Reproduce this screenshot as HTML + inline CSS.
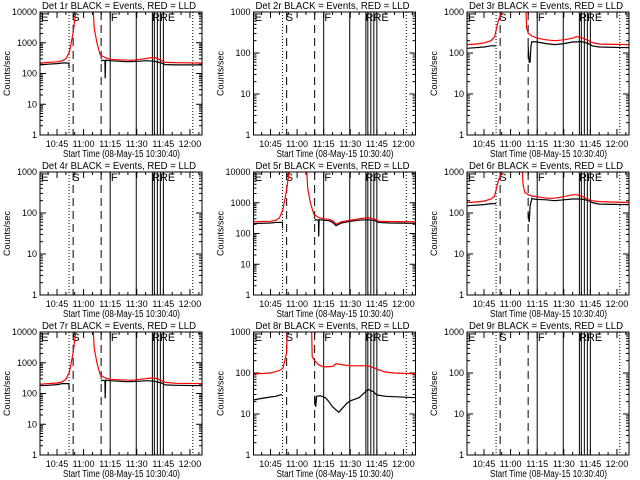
<!DOCTYPE html>
<html><head><meta charset="utf-8"><style>
html,body{margin:0;padding:0;background:#fff;}
svg{display:block;font-family:"Liberation Sans",sans-serif;}
</style></head><body>
<svg id="c" width="640" height="480" viewBox="0 0 640 480"></svg>
<script>
// shared time axis (minutes after 10:00)
const xTickLabels = ["10:45","11:00","11:15","11:30","11:45","12:00"];
const xTickTimes = [45,60,75,90,105,120];
const eventLabels = ["E","S","F","RRE"];
const eventLabelTimes = [36.0,53.6,75.4,98.6];
const dottedTimes = [51.8,121.6];
const dashedTimes = [54.1,69.9];
const solidTimes = [75.0,89.7,98.8,99.9,101.6,103.3,105.0];
// panel y-axis max decades
const panelDecades = [4,3,3,3,4,3,4,3,3];
// Det 1
const redT1 = [35.4,40,45,48,50,52,54,56.3,65.2,66,67.5,69.4,72.2,75,85,88,94,98,101,104,106,112,126.8];
const redV1 = [220,230,240,260,300,500,2000,20000,20000,3000,1000,400,330,290,270,270,300,330,320,260,230,225,220];
const blkT1 = [35.4,40,45,48,51.7,51.8,52,69.9,70.5,72,72.2,72.4,75,85,90,96,100,104,106,112,126.8];
const blkV1 = [190,200,210,220,220,150,null,250,270,260,70,270,260,240,250,260,250,220,195,190,190];
// Det 3
const redT3 = [35.4,40,45,49,51,53,55,56,68.2,69,70,72,75,80,85,90,95,97,100,104,106,110,126.8];
const redV3 = [160,165,175,200,250,600,1000,5000,5000,400,300,260,230,210,200,210,230,250,240,200,180,165,160];
const blkT3 = [35.4,40,45,49,51.8,52,69.9,70.5,71,71.5,72,75,80,85,90,95,100,104,106,110,126.8];
const blkV3 = [130,135,140,150,150,null,150,60,60,150,190,185,170,160,170,185,190,170,150,140,135];
// Det 5
const redT5 = [35.4,40,45,48,50,52,54,56.3,65.2,66,67.5,69.4,72.2,75,78,80,82,85,90,95,100,104,106,112,126.8];
const redV5 = [240,245,250,270,320,600,2500,20000,20000,3000,1000,420,330,300,290,260,200,240,270,300,330,290,250,245,240];
const blkT5 = [35.4,40,45,48,51.7,51.8,52,69.9,70.5,72,72.2,72.4,75,78,80,82,85,90,95,100,104,106,112,126.8];
const blkV5 = [210,215,220,230,230,150,null,260,280,270,80,280,270,260,230,180,220,250,270,280,260,230,220,215];
// Det 6
const redT6 = [35.4,40,45,49,51,53,55,56,66.0,67,68,70,72,75,80,85,90,95,97,100,104,106,110,126.8];
const redV6 = [180,185,195,220,260,600,1000,5000,5000,500,320,280,260,250,230,230,250,280,280,260,210,200,190,180];
const blkT6 = [35.4,40,45,49,51.8,52,69.9,70.5,71,72,73,75,80,85,90,95,100,104,106,110,126.8];
const blkV6 = [150,155,160,170,170,null,100,60,150,230,220,215,210,200,210,220,220,200,180,165,160];
// Det 7
const redT7 = [35.4,40,45,48,50,52,54,56.3,65.2,66,67.5,69.4,72.2,75,85,88,94,98,101,104,106,112,126.8];
const redV7 = [200,210,220,240,290,500,2000,20000,20000,3000,1000,400,320,290,270,270,300,320,310,260,230,215,210];
const blkT7 = [35.4,40,45,48,51.7,51.8,52,69.9,70.5,72,72.2,72.4,75,85,90,96,100,104,106,112,126.8];
const blkV7 = [180,185,195,210,210,140,null,250,270,260,70,270,260,240,250,260,250,220,190,185,180];
// Det 8
const redT8 = [35.4,40,45,48,50,52,54,55,67.9,68.5,70,72,75,80,82,85,90,95,100,104,106,110,115,126.8];
const redV8 = [95,97,100,108,115,130,300,5000,5000,250,200,160,140,145,170,160,150,150,150,130,120,105,100,95];
const blkT8 = [35.4,40,45,48,51.5,51.8,69.9,70.5,71,73,76,78,80,83.5,85,88,90,95,98,100,103,105,110,126.8];
const blkV8 = [22,24,26,27,30,null,28,15,27,28,25,20,15,11,13,18,21,25,33,40,35,29,27,25];
const panelData = [
  [redT1,redV1,blkT1,blkV1],null,[redT3,redV3,blkT3,blkV3],
  null,[redT5,redV5,blkT5,blkV5],[redT6,redV6,blkT6,blkV6],
  [redT7,redV7,blkT7,blkV7],[redT8,redV8,blkT8,blkV8],null];

const svg = document.getElementById('c');
const NS = 'http://www.w3.org/2000/svg';
function mk(tag, attrs, parent){const e=document.createElementNS(NS,tag);for(const k in attrs)e.setAttribute(k,attrs[k]);parent.appendChild(e);return e;}
const T0=35.4, T1=126.8, W=162, H=123;

for(let p=0;p<9;p++){
  const col=p%3,row=Math.floor(p/3);
  const L=40+col*213.5, Tp=12+row*160;
  const dec=panelDecades[p];
  const xs=t=>L+(t-T0)/(T1-T0)*W;
  const ys=v=>Tp+H-Math.log10(v)/dec*H;
  const g=mk('g',{},svg);
  
  
  const title=mk('text',{x:L+2,y:Tp-3,'font-size':10,textLength:154,lengthAdjust:'spacingAndGlyphs'},g);
  title.textContent='Det '+(p+1)+'r BLACK = Events, RED = LLD';
  
  
  const yl=mk('text',{x:0,y:0,'font-size':9,'text-anchor':'middle',transform:`translate(${L-30},${Tp+H/2}) rotate(-90)`},g);
  yl.textContent='Counts/sec';
  
  
  const xl=mk('text',{x:L+23,y:Tp+H+22,'font-size':10,textLength:117,lengthAdjust:'spacingAndGlyphs'},g);
  xl.textContent='Start Time (08-May-15 10:30:40)';
  
  
  // y ticks
  for(let d=0;d<=dec;d++){
    const y=ys(Math.pow(10,d));
    mk('line',{x1:L,x2:L+6,y1:y,y2:y,stroke:'#000'},g);
    mk('line',{x1:L+W-6,x2:L+W,y1:y,y2:y,stroke:'#000'},g);
    const tl=mk('text',{x:L-3,y:y+3,'font-size':9,'text-anchor':'end'},g);
    tl.textContent=String(Math.pow(10,d));
    
    
    if(d<dec)for(let m=2;m<10;m++){const ym=ys(m*Math.pow(10,d));
      mk('line',{x1:L,x2:L+3,y1:ym,y2:ym,stroke:'#000'},g);
      mk('line',{x1:L+W-3,x2:L+W,y1:ym,y2:ym,stroke:'#000'},g);}
  }
  // x ticks
  for(let t=40;t<=125;t+=5){const x=xs(t);const major=(t%15===0);const len=major?6:3;
    mk('line',{x1:x,x2:x,y1:Tp+H,y2:Tp+H-len,stroke:'#000'},g);
    mk('line',{x1:x,x2:x,y1:Tp,y2:Tp+len,stroke:'#000'},g);}
  xTickTimes.forEach((t,i)=>{const tl=mk('text',{x:xs(t),y:Tp+H+12,'font-size':9,'text-anchor':'middle'},g);
    tl.textContent=xTickLabels[i];
    
    });
  // event lines
  dottedTimes.forEach(t=>mk('line',{x1:xs(t),x2:xs(t),y1:Tp,y2:Tp+H,stroke:'#000','stroke-dasharray':'1,2'},g));
  dashedTimes.forEach(t=>mk('line',{x1:xs(t),x2:xs(t),y1:Tp,y2:Tp+H,stroke:'#000','stroke-dasharray':'8,5'},g));
  solidTimes.forEach(t=>mk('line',{x1:xs(t),x2:xs(t),y1:Tp,y2:Tp+H,stroke:'#000'},g));
  eventLabelTimes.forEach((t,i)=>{const el=mk('text',{x:xs(t),y:Tp+9,'font-size':11},g);
    el.textContent=eventLabels[i];
    
    });
  // data
  const cid='clip'+p;
  const cp=mk('clipPath',{id:cid},g);mk('rect',{x:L,y:Tp,width:W,height:H},cp);
  const dd=panelData[p];
  if(dd){
    [[dd[2],dd[3],'#000','black-events-line'],[dd[0],dd[1],'#f00','red-lld-line']].forEach(s=>{
      let d='',pen=false;
      s[0].forEach((t,i)=>{const v=s[1][i];if(v==null){pen=false;return;}
        d+=(pen?'L':'M')+xs(t).toFixed(1)+','+ys(v).toFixed(1);pen=true;});
      const pa=mk('path',{d:d,fill:'none',stroke:s[2],'stroke-width':1.2,'clip-path':`url(#${cid})`},g);
      
      
    });
  }
  mk('rect',{x:L,y:Tp,width:W,height:H,fill:'none',stroke:'#000'},g);
}
</script>
</body></html>
